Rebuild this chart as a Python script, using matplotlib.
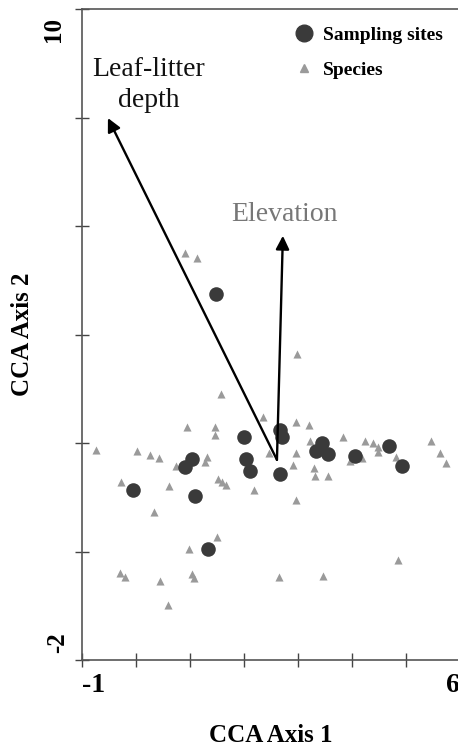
import numpy as np
import matplotlib.pyplot as plt
from matplotlib.lines import Line2D

# Sampling sites (CCA scores)
site_x = [1.48, 2.67, 2.70, 2.00, 2.04, 2.11, 2.67, 1.04, 0.91, -0.06,
          1.09, 1.33, 3.44, 3.33, 3.56, 4.06, 4.69, 4.93]
site_y = [4.75, 2.24, 2.11, 2.11, 1.70, 1.48, 1.43, 1.70, 1.56, 1.13,
          1.02, 0.05, 2.00, 1.85, 1.80, 1.76, 1.94, 1.58]

# Species scores
sp_x = [0.91, 1.13, 2.98, 1.57, 2.35, 2.96, 3.20, 0.94, 1.46, 1.46,
        -0.74, 0.02, 0.26, 0.43, 0.74, 1.31, 1.28, 2.46, 2.96, 3.22,
        3.83, 4.24, 4.39, 4.48, 4.48, 3.96, 4.19, 4.81, 5.46, 5.63,
        5.74, 2.91, 3.30, 3.31, 3.56, -0.28, 0.61, 1.52, 1.59, 1.67,
        2.19, 2.96, 0.33, 1.50, 0.98, -0.30, -0.20, 0.44, 1.04, 1.07,
        0.59, 2.65, 3.46, 4.85]
sp_y = [5.50, 5.41, 3.64, 2.90, 2.48, 2.39, 2.33, 2.29, 2.29, 2.15,
        1.87, 1.85, 1.78, 1.72, 1.58, 1.74, 1.65, 1.82, 1.82, 2.04,
        2.11, 2.04, 2.00, 1.93, 1.83, 1.67, 1.72, 1.74, 2.04, 1.82,
        1.63, 1.59, 1.54, 1.39, 1.39, 1.28, 1.21, 1.34, 1.28, 1.23,
        1.13, 0.95, 0.73, 0.27, 0.05, -0.40, -0.47, -0.54, -0.41, -0.49,
        -0.99, -0.47, -0.45, -0.16]

# environmental vectors
arrow_origin = (2.61, 1.69)
litter_tip = (-0.52, 7.99)
elev_tip = (2.72, 5.82)

plt.rcParams['font.family'] = ['Liberation Serif', 'DejaVu Serif']

fig = plt.figure(figsize=(4.58, 7.46), dpi=100)
ax = fig.add_axes([82/458, 86/746, 378/458, 651/746])

ax.scatter(sp_x, sp_y, marker='^', s=34, color='#9a9a9a', linewidths=0, zorder=2)
ax.scatter(site_x, site_y, marker='o', s=110, color='#3a3a3a', linewidths=0, zorder=3)

for tip in [litter_tip, elev_tip]:
    ax.annotate('', xy=tip, xytext=arrow_origin,
                arrowprops=dict(arrowstyle='-|>', mutation_scale=20, lw=1.7,
                                color='black', shrinkA=0, shrinkB=0), zorder=4)

ax.text(0.24, 8.6, 'Leaf-litter\ndepth', fontsize=20, ha='center', va='center',
        linespacing=1.3, color='#111111')
ax.text(2.74, 6.22, 'Elevation', fontsize=20, ha='center', va='center', color='#777777')

ax.set_xlim(-1, 6)
ax.set_ylim(-2, 10)
ax.set_xticks(range(-1, 7))
ax.set_xticklabels([])
ax.set_yticks(range(-2, 11, 2))
ax.set_yticklabels([])
ax.tick_params(direction='inout', length=10, width=1, color='#444444')

# end labels only, placed as in the original
xtrans = ax.get_xaxis_transform()
ax.text(-1.0, -0.02, '-1', transform=xtrans, ha='left', va='top',
        fontsize=20, fontweight='bold')
ax.text(5.99, -0.02, '6', transform=xtrans, ha='right', va='top',
        fontsize=20, fontweight='bold', clip_on=False)
ytrans = ax.get_yaxis_transform()
ax.text(-0.045, 9.85, '10', transform=ytrans, rotation=90, ha='right', va='top',
        fontsize=18, fontweight='bold')
ax.text(-0.035, -1.87, '-2', transform=ytrans, rotation=90, ha='right', va='bottom',
        fontsize=18, fontweight='bold')

for side in ['left', 'bottom', 'top']:
    ax.spines[side].set_color('#555555')
    ax.spines[side].set_linewidth(1.2)
ax.spines['right'].set_visible(False)

fig.text(271/458, 1 - 735/746, 'CCA Axis 1', fontsize=18, fontweight='bold',
         ha='center', va='center')
fig.text(23/458, 1 - 334/746, 'CCA Axis 2', fontsize=18, fontweight='bold',
         ha='center', va='center', rotation=90)

handles = [Line2D([], [], marker='o', ls='', color='#3a3a3a', markersize=12),
           Line2D([], [], marker='^', ls='', color='#9a9a9a', markersize=6)]
ax.legend(handles, ['Sampling sites', 'Species'], loc='upper left',
          bbox_to_anchor=(0.515, 1.0), frameon=False, handlelength=1.0,
          handletextpad=0.5, labelspacing=0.9,
          prop={'family': 'Liberation Serif', 'weight': 'bold', 'size': 14})

fig.savefig('out.png', dpi=100)
